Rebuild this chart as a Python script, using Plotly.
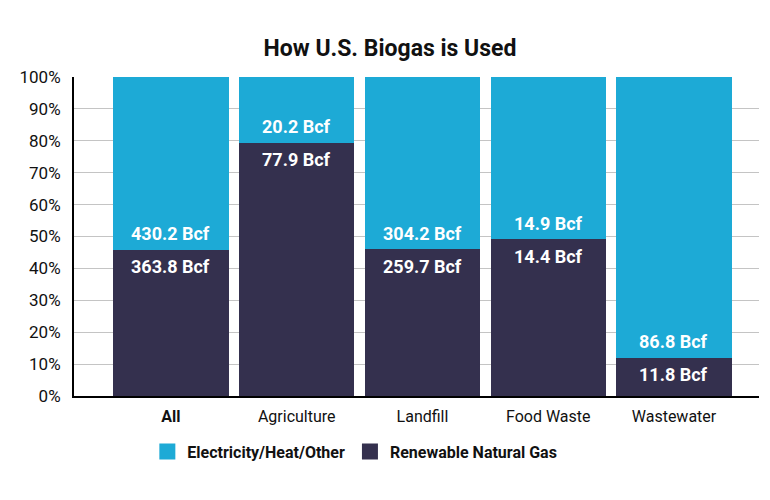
import plotly.graph_objects as go

categories = ["All", "Agriculture", "Landfill", "Food Waste", "Wastewater"]
tick_labels = ["<b>All</b>", "Agriculture", "Landfill", "Food Waste", "Wastewater"]
rng_bcf = [363.8, 77.9, 259.7, 14.4, 11.8]
elec_bcf = [430.2, 20.2, 304.2, 14.9, 86.8]

LIGHT = "#1DAAD6"
DARK = "#34304E"
FONT = "Roboto"

rng_pct = [r / (r + e) * 100 for r, e in zip(rng_bcf, elec_bcf)]
elec_pct = [e / (r + e) * 100 for r, e in zip(rng_bcf, elec_bcf)]

fig = go.Figure()
fig.add_trace(go.Bar(x=categories, y=rng_pct, marker=dict(color=DARK, line=dict(width=0)),
                     name="Renewable Natural Gas", showlegend=False, hoverinfo="skip"))
fig.add_trace(go.Bar(x=categories, y=elec_pct, marker=dict(color=LIGHT, line=dict(width=0)),
                     name="Electricity/Heat/Other", showlegend=False, hoverinfo="skip"))

# legend entries
fig.add_trace(go.Scatter(x=[None], y=[None], mode="markers", name="Electricity/Heat/Other",
                         marker=dict(symbol="square", size=20, color=LIGHT)))
fig.add_trace(go.Scatter(x=[None], y=[None], mode="markers", name="Renewable Natural Gas",
                         marker=dict(symbol="square", size=20, color=DARK)))

annotations = []
for c, p, r, e in zip(categories, rng_pct, rng_bcf, elec_bcf):
    annotations.append(dict(x=c, y=p, xref="x", yref="y", text=f"<b>{r:.1f} Bcf</b>",
                            showarrow=False, yanchor="middle", yshift=-17,
                            font=dict(family=FONT, size=18, color="white")))
    annotations.append(dict(x=c, y=p, xref="x", yref="y", text=f"<b>{e:.1f} Bcf</b>",
                            showarrow=False, yanchor="middle", yshift=16,
                            font=dict(family=FONT, size=18, color="white")))

fig.update_layout(
    width=770, height=500,
    barmode="stack", bargap=0.082,
    paper_bgcolor="white", plot_bgcolor="white",
    margin=dict(l=66, r=19, t=69, b=112),
    font=dict(family=FONT, size=16, color="#111111"),
    title=dict(text="<b>How U.S. Biogas is Used</b>", x=382 / 770, xanchor="center",
               y=1 - 40 / 500, yanchor="middle", font=dict(family=FONT, size=23, color="#111111")),
    legend=dict(orientation="h", x=0.41, xanchor="center", y=-0.174, yanchor="middle",
                font=dict(family=FONT, size=16, color="#111111", weight="bold"),
                itemsizing="trace", traceorder="normal"),
    annotations=annotations,
    xaxis=dict(type="category", range=[-0.771, 4.676], tickmode="array",
               tickvals=categories, ticktext=tick_labels, showline=True, linecolor="black",
               linewidth=2, ticks="", showgrid=False, ticklabelstandoff=5,
               tickfont=dict(family=FONT, size=16, color="#111111")),
    yaxis=dict(range=[0, 100], tickvals=list(range(0, 101, 10)),
               ticktext=[f"{v}%" for v in range(0, 101, 10)],
               showline=True, linecolor="black", linewidth=2, ticks="",
               showgrid=True, gridcolor="#C4C4C4", gridwidth=1, zeroline=False,
               ticklabelstandoff=8, tickfont=dict(family=FONT, size=17, color="#111111")),
)

fig.write_html("out.html")
